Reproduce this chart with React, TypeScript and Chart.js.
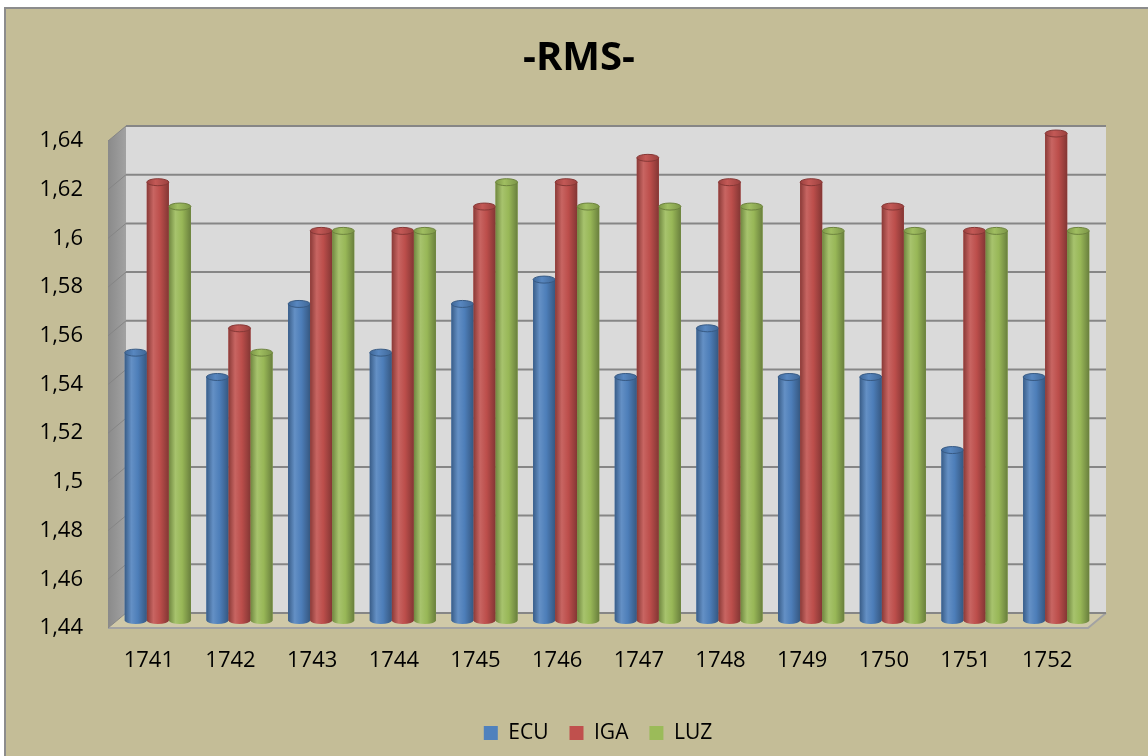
import React, { useEffect, useRef } from 'react';
import { Chart, registerables } from 'chart.js';

Chart.register(...registerables);

const categories = ['1741', '1742', '1743', '1744', '1745', '1746', '1747', '1748', '1749', '1750', '1751', '1752'];
const ecuValues = [1.55, 1.54, 1.57, 1.55, 1.57, 1.58, 1.54, 1.56, 1.54, 1.54, 1.51, 1.54];
const igaValues = [1.62, 1.56, 1.6, 1.6, 1.61, 1.62, 1.63, 1.62, 1.62, 1.61, 1.6, 1.64];
const luzValues = [1.61, 1.55, 1.6, 1.6, 1.62, 1.61, 1.61, 1.61, 1.6, 1.6, 1.6, 1.6];
const seriesNames = ['ECU', 'IGA', 'LUZ'];
const seriesColors = ['#4F81BD', '#C0504D', '#9BBB59'];
const yMin = 1.44;
const yMax = 1.64;
const yStep = 0.02;
const chartTitle = '-RMS-';

const DX = 18;
const DY = -15;
const FONT = "'Open Sans', 'Liberation Sans', sans-serif";

function hexToRgb(hex: string) {
  const n = parseInt(hex.slice(1), 16);
  return [(n >> 16) & 255, (n >> 8) & 255, n & 255];
}
function shade(hex: string, f: number) {
  const [r, g, b] = hexToRgb(hex);
  const m = (c: number) =>
    Math.round(f >= 1 ? c + (255 - c) * (f - 1) : c * f);
  return `rgb(${m(r)},${m(g)},${m(b)})`;
}

const threeDPlugin = {
  id: 'threeD',
  beforeDraw(chart: any) {
    const { ctx, chartArea } = chart;
    const { left: L, right: R, top: T, bottom: B } = chartArea;
    ctx.save();
    ctx.fillStyle = '#ffffff';
    ctx.fillRect(0, 0, chart.width, chart.height);
    ctx.fillStyle = '#C4BD97';
    ctx.fillRect(5, 8, chart.width - 5, chart.height - 8);
    ctx.strokeStyle = '#8C8C8C';
    ctx.lineWidth = 2;
    ctx.beginPath();
    ctx.moveTo(5, chart.height);
    ctx.lineTo(5, 8);
    ctx.lineTo(chart.width, 8);
    ctx.stroke();

    // back wall
    ctx.fillStyle = '#DADADA';
    ctx.fillRect(L + DX, T + DY, R - L, B - T);

    // side wall
    const sg = ctx.createLinearGradient(L, 0, L + DX, 0);
    sg.addColorStop(0, '#8A8A8A');
    sg.addColorStop(1, '#A2A2A2');
    ctx.fillStyle = sg;
    ctx.beginPath();
    ctx.moveTo(L, T);
    ctx.lineTo(L + DX, T + DY);
    ctx.lineTo(L + DX, B + DY);
    ctx.lineTo(L, B);
    ctx.closePath();
    ctx.fill();

    // floor
    ctx.fillStyle = '#D0C9A8';
    ctx.beginPath();
    ctx.moveTo(L, B);
    ctx.lineTo(L + DX, B + DY);
    ctx.lineTo(R + DX, B + DY);
    ctx.lineTo(R, B);
    ctx.closePath();
    ctx.fill();
    ctx.strokeStyle = '#A3A3A3';
    ctx.lineWidth = 2;
    ctx.beginPath();
    ctx.moveTo(L, B);
    ctx.lineTo(R, B);
    ctx.lineTo(R + DX, B + DY);
    ctx.stroke();

    // gridlines
    const ys = chart.scales.y;
    ys.ticks.forEach((t: any) => {
      const py = ys.getPixelForValue(t.value);
      ctx.strokeStyle = '#868686';
      ctx.lineWidth = 2;
      ctx.beginPath();
      ctx.moveTo(L + DX, py + DY);
      ctx.lineTo(R + DX, py + DY);
      ctx.stroke();
      ctx.strokeStyle = '#858585';
      ctx.lineWidth = 1;
      ctx.beginPath();
      ctx.moveTo(L, py);
      ctx.lineTo(L + DX, py + DY);
      ctx.stroke();
    });
    ctx.restore();
  },
  beforeDatasetsDraw(chart: any) {
    chart.ctx.save();
    chart.ctx.translate(DX / 2, DY / 2);
  },
  afterDatasetsDraw(chart: any) {
    const ctx = chart.ctx;
    chart.data.datasets.forEach((ds: any, i: number) => {
      const meta = chart.getDatasetMeta(i);
      const col = seriesColors[i];
      meta.data.forEach((el: any) => {
        const { x, y, base, width } = el.getProps(['x', 'y', 'base', 'width'], true);
        const l = x - width / 2;
        const r = x + width / 2;
        const rx = width / 2;
        const ry = 3.5;
        const g = ctx.createLinearGradient(l, 0, r, 0);
        g.addColorStop(0, shade(col, 0.72));
        g.addColorStop(0.3, shade(col, 1.12));
        g.addColorStop(0.6, shade(col, 0.98));
        g.addColorStop(1, shade(col, 0.68));
        ctx.fillStyle = g;
        ctx.beginPath();
        ctx.moveTo(l, y);
        ctx.lineTo(l, base);
        ctx.ellipse(x, base, rx, ry, 0, Math.PI, 0, true);
        ctx.lineTo(r, y);
        ctx.closePath();
        ctx.fill();
        const cg = ctx.createLinearGradient(l, 0, r, 0);
        cg.addColorStop(0, shade(col, 0.8));
        cg.addColorStop(0.4, shade(col, 1.05));
        cg.addColorStop(1, shade(col, 0.8));
        ctx.fillStyle = cg;
        ctx.beginPath();
        ctx.ellipse(x, y, rx, ry, 0, 0, Math.PI * 2);
        ctx.fill();
        ctx.strokeStyle = shade(col, 0.7);
        ctx.lineWidth = 1;
        ctx.stroke();
      });
    });
    ctx.restore();
  },
};

export default function App() {
  const ref = useRef<HTMLCanvasElement>(null);
  useEffect(() => {
    Chart.defaults.font.family = FONT;
    const seriesData = [ecuValues, igaValues, luzValues];
    const chart = new Chart(ref.current as HTMLCanvasElement, {
      type: 'bar',
      data: {
        labels: categories,
        datasets: seriesNames.map((name, i) => ({
          label: name,
          data: seriesData[i],
          backgroundColor: seriesColors[i],
          borderWidth: 0,
          categoryPercentage: 0.81,
          barPercentage: 1,
          base: yMin,
          yAxisID: 'y',
          clip: false as any,
        })),
      },
      options: {
        responsive: false,
        animation: false,
        events: [],
        layout: { padding: { left: 10, right: 0, top: 0, bottom: 2.5 } },
        plugins: {
          title: {
            display: true,
            text: chartTitle,
            color: '#000',
            font: { family: FONT, size: 40, weight: 'bold' },
            padding: { top: 35, bottom: 58 },
          },
          legend: {
            position: 'bottom',
            fullSize: false,
            labels: {
              boxWidth: 14,
              boxHeight: 14,
              padding: 21,
              color: '#000',
              font: { family: FONT, size: 21 },
            },
          },
          tooltip: { enabled: false },
        },
        scales: {
          x: {
            grid: { display: false, drawTicks: false },
            border: { display: false },
            ticks: { color: '#000', font: { family: FONT, size: 22 }, padding: 20 },
            afterFit: (s: any) => {
              s.height = 73.5;
            },
          },
          y: {
            min: yMin,
            max: yMax,
            grid: { display: false, drawTicks: false },
            border: { display: false },
            ticks: {
              stepSize: yStep,
              padding: 25,
              color: '#000',
              font: { family: FONT, size: 22 },
              callback: (v: any) => String(Math.round(Number(v) * 100) / 100).replace('.', ','),
            },
            afterFit: (s: any) => {
              s.width = 98;
            },
          },
          y2: {
            position: 'right',
            display: true,
            grid: { display: false, drawTicks: false },
            border: { display: false },
            ticks: { display: false },
            afterFit: (s: any) => {
              s.width = 60;
            },
          },
        },
      } as any,
      plugins: [threeDPlugin],
    });
    return () => chart.destroy();
  }, []);
  return (
    <div style={{ position: 'fixed', left: 0, top: 0, width: 1148, height: 756 }}>
      <canvas ref={ref} width={1148} height={756} style={{ display: 'block' }} />
    </div>
  );
}
